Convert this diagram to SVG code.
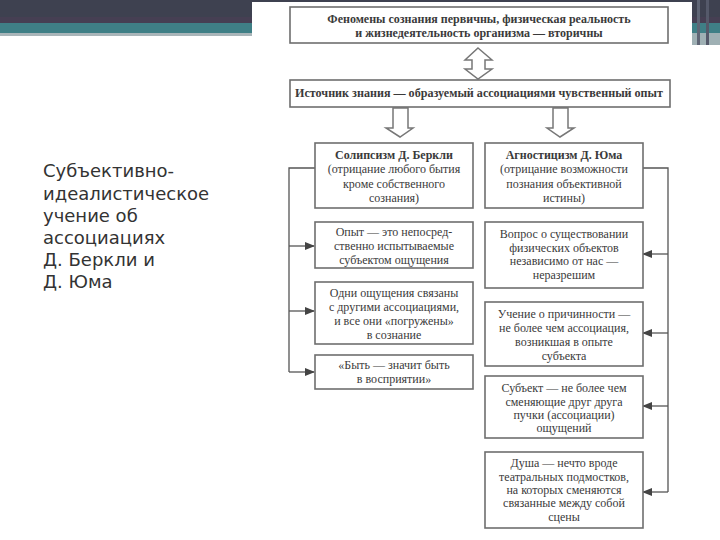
<svg xmlns="http://www.w3.org/2000/svg" width="720" height="540" viewBox="0 0 720 540">
<defs>
<style>
.box{fill:#fff;stroke:#6e6e6e;stroke-width:1.6}
.t{font-family:"Liberation Serif","Times New Roman",serif;font-size:12px;fill:#3a3a3a;text-anchor:middle}
.b{font-weight:bold}
.con{fill:none;stroke:#555;stroke-width:1.3}
.hollow{fill:#fff;stroke:#777;stroke-width:1.5;stroke-linejoin:miter}
.side{font-family:"DejaVu Sans","Noto Sans",sans-serif;font-size:18px;fill:#333}
</style>
<marker id="ah" markerWidth="10" markerHeight="8" refX="9" refY="4" orient="auto" markerUnits="userSpaceOnUse">
<path d="M0,0 L10,4 L0,8 Z" fill="#444"/>
</marker>
</defs>
<rect width="720" height="540" fill="#fff"/>
<!-- header bands -->
<g id="header">
<rect x="0" y="0" width="720" height="23" fill="#3e4150"/>
<rect x="0" y="17" width="720" height="6" fill="#463f53"/>
<rect x="0" y="23" width="720" height="10" fill="#3f7f86"/>
<rect x="0" y="33" width="720" height="3" fill="#a9b5b9"/>
<rect x="692" y="33" width="28" height="12" fill="#9fb0b4"/>
<rect x="697" y="0" width="3" height="45" fill="#5f6575"/>
<rect x="706" y="0" width="3" height="45" fill="#55596a"/>
<rect x="252" y="2" width="440" height="538" fill="#fff"/>
</g>
<g id="side-title">
<text class="side" x="43" y="177">Субъективно-</text>
<text class="side" x="43" y="200">идеалистическое</text>
<text class="side" x="43" y="222">учение об</text>
<text class="side" x="43" y="244">ассоциациях</text>
<text class="side" x="43" y="266">Д. Беркли и</text>
<text class="side" x="43" y="288">Д. Юма</text>
</g>
<g id="connectors">
<path class="hollow" d="M478,48 L492,60 L485,60 L485,69 L492,69 L478,79 L465,69 L472,69 L472,60 L465,60 Z"/>
<path class="hollow" d="M393,108 L408,108 L408,128 L413,128 L400,137 L386,128 L393,128 Z"/>
<path class="hollow" d="M553,108 L568,108 L568,128 L574,128 L560,137 L547,128 L553,128 Z"/>
<path class="con" d="M315,168 L289,168 L289,372"/>
<path class="con" d="M289,246 L314,246" marker-end="url(#ah)"/>
<path class="con" d="M289,311 L314,311" marker-end="url(#ah)"/>
<path class="con" d="M289,372 L314,372" marker-end="url(#ah)"/>
<path class="con" d="M643,168 L668,168 L668,492"/>
<path class="con" d="M668,254 L643,254" marker-end="url(#ah)"/>
<path class="con" d="M668,333 L643,333" marker-end="url(#ah)"/>
<path class="con" d="M668,406 L643,406" marker-end="url(#ah)"/>
<path class="con" d="M668,492 L643,492" marker-end="url(#ah)"/>
</g>
<g id="n-top">
<rect class="box" x="290" y="7" width="378" height="36"/>
<text class="t b" x="479" y="23" font-size="11.5">Феномены сознания первичны, физическая реальность</text>
<text class="t b" x="479" y="37" font-size="11.5">и жизнедеятельность организма — вторичны</text>
</g>
<g id="n-source">
<rect class="box" x="290" y="80" width="380" height="27"/>
<text class="t b" x="479" y="97" textLength="368" lengthAdjust="spacingAndGlyphs">Источник знания — образуемый ассоциациями чувственный опыт</text>
</g>
<g id="n-berkeley">
<rect class="box" x="315" y="143" width="158" height="65"/>
<text class="t b" x="394" y="159">Солипсизм Д. Беркли</text>
<text class="t" x="394" y="173">(отрицание любого бытия</text>
<text class="t" x="394" y="188">кроме собственного</text>
<text class="t" x="394" y="202">сознания)</text>
</g>
<g id="n-hume">
<rect class="box" x="485" y="143" width="158" height="65"/>
<text class="t b" x="564" y="159">Агностицизм Д. Юма</text>
<text class="t" x="564" y="173">(отрицание возможности</text>
<text class="t" x="564" y="188">познания объективной</text>
<text class="t" x="564" y="202">истины)</text>
</g>
<g id="n-l1">
<rect class="box" x="315" y="222" width="158" height="46"/>
<text class="t" x="394" y="236">Опыт — это непосред-</text>
<text class="t" x="394" y="250">ственно испытываемые</text>
<text class="t" x="394" y="264">субъектом ощущения</text>
</g>
<g id="n-l2">
<rect class="box" x="315" y="282" width="158" height="62"/>
<text class="t" x="394" y="297">Одни ощущения связаны</text>
<text class="t" x="394" y="311">с другими ассоциациями,</text>
<text class="t" x="394" y="325">и все они «погружены»</text>
<text class="t" x="394" y="339">в сознание</text>
</g>
<g id="n-l3">
<rect class="box" x="315" y="355" width="158" height="34"/>
<text class="t" x="394" y="369">«Быть — значит быть</text>
<text class="t" x="394" y="383">в восприятии»</text>
</g>
<g id="n-r1">
<rect class="box" x="485" y="222" width="158" height="66"/>
<text class="t" x="564" y="238">Вопрос о существовании</text>
<text class="t" x="564" y="252">физических объектов</text>
<text class="t" x="564" y="265">независимо от нас —</text>
<text class="t" x="564" y="279">неразрешим</text>
</g>
<g id="n-r2">
<rect class="box" x="485" y="302" width="158" height="64"/>
<text class="t" x="564" y="318">Учение о причинности —</text>
<text class="t" x="564" y="332">не более чем ассоциация,</text>
<text class="t" x="564" y="346">возникшая в опыте</text>
<text class="t" x="564" y="360">субъекта</text>
</g>
<g id="n-r3">
<rect class="box" x="485" y="376" width="158" height="62"/>
<text class="t" x="564" y="392">Субъект — не более чем</text>
<text class="t" x="564" y="406">сменяющие друг друга</text>
<text class="t" x="564" y="419">пучки (ассоциации)</text>
<text class="t" x="564" y="432">ощущений</text>
</g>
<g id="n-r4">
<rect class="box" x="485" y="452" width="158" height="76"/>
<text class="t" x="564" y="467">Душа — нечто вроде</text>
<text class="t" x="564" y="481">театральных подмостков,</text>
<text class="t" x="564" y="494">на которых сменяются</text>
<text class="t" x="564" y="507">связанные между собой</text>
<text class="t" x="564" y="521">сцены</text>
</g>
</svg>
